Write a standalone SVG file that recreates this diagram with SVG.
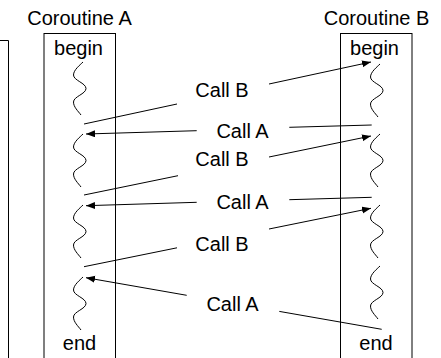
<svg xmlns="http://www.w3.org/2000/svg" xmlns:xlink="http://www.w3.org/1999/xlink" width="441" height="358" viewBox="0 0 441 358">
  <style>
    text { font-family: "Liberation Sans", Arial, sans-serif; font-size: 20px; fill: #000; text-anchor: middle; }
    .box { fill: none; stroke: #000; stroke-width: 1; }
    .sq { fill: none; stroke: #000; stroke-width: 1; }
    .conn { fill: none; stroke: #000; stroke-width: 1; marker-end: url(#arrow); }
  </style>
  <defs>
    <marker id="arrow" markerUnits="userSpaceOnUse" markerWidth="10" markerHeight="8" refX="9" refY="3.5" orient="auto">
      <path d="M0,0 L9,3.5 L0,7 Z" fill="#000"/>
    </marker>
    <path id="squiggle" class="sq" d="M0,0 C-3,3 -9.5,8 -9.5,13 C-9.5,18.5 3,21 3,26.5 C3,32 -9.5,34.5 -9.5,40 C-9.5,45 -5,49 -2,53"/>
  </defs>
  <rect x="0" y="0" width="441" height="358" fill="#fff"/>

  <g id="left-box">
    <path class="box" d="M0,40.5 L8.5,40.5 L8.5,360"/>
  </g>

  <g id="coroutine-a">
    <rect class="box" x="44" y="33.5" width="71.5" height="340"/>
    <text x="79.5" y="25">Coroutine A</text>
    <text x="78.5" y="55">begin</text>
    <text x="79.5" y="350">end</text>
    <use xlink:href="#squiggle" href="#squiggle" x="83" y="62"/>
    <use xlink:href="#squiggle" href="#squiggle" x="83" y="134"/>
    <use xlink:href="#squiggle" href="#squiggle" x="83" y="205"/>
    <use xlink:href="#squiggle" href="#squiggle" x="83" y="277"/>
  </g>

  <g id="coroutine-b">
    <rect class="box" x="340.5" y="33.5" width="71.5" height="340"/>
    <text x="376.5" y="25">Coroutine B</text>
    <text x="374.5" y="55">begin</text>
    <text x="376" y="350">end</text>
    <use xlink:href="#squiggle" href="#squiggle" x="380" y="64"/>
    <use xlink:href="#squiggle" href="#squiggle" x="380" y="134"/>
    <use xlink:href="#squiggle" href="#squiggle" x="380" y="205"/>
    <use xlink:href="#squiggle" href="#squiggle" x="380" y="266"/>
  </g>

  <g id="connectors">
    <path class="conn" d="M84,124 L177,104 M269,84 L371,62"/>
    <text x="222" y="97">Call B</text>
    <path class="conn" d="M371.7,125 L289.3,127.3 M196.7,130.7 L86,134"/>
    <text x="242.5" y="138">Call A</text>
    <path class="conn" d="M84,195 L178,175.7 M269,157 L371,136"/>
    <text x="222" y="166">Call B</text>
    <path class="conn" d="M371.7,197.3 L289.3,199.7 M196.7,202.3 L86,205.7"/>
    <text x="242.5" y="209">Call A</text>
    <path class="conn" d="M84,266.7 L177,247.8 M269,229 L371,208.3"/>
    <text x="222" y="251">Call B</text>
    <path class="conn" d="M381.7,329.3 L279.3,311.4 M186.7,295.3 L86,277.7"/>
    <text x="232.5" y="311">Call A</text>
  </g>
</svg>
